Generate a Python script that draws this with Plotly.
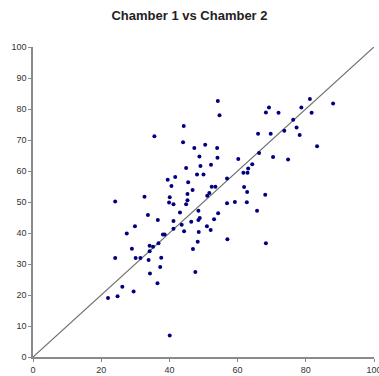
import plotly.graph_objects as go

chamber1 = [54.2, 54.7, 68.3, 69.2, 72.0, 76.3, 78.7, 81.2, 81.7, 88.0,
            44.2, 35.6, 44.0, 66.0, 69.7, 73.7, 77.3, 78.2, 83.3, 47.3,
            50.5, 54.0, 54.1, 48.8, 66.3, 60.2, 70.4, 74.8, 44.9, 49.1,
            52.2, 64.3, 63.1, 61.7, 62.9, 48.1, 50.0, 39.5, 41.7, 56.9,
            45.5, 40.6, 46.8, 52.4, 53.5, 61.9, 62.8, 51.7, 51.1, 45.3,
            40.1, 32.7, 24.1, 45.3, 39.9, 41.2, 44.9, 56.9, 59.2, 62.7,
            68.1, 33.7, 43.1, 48.5, 54.3, 65.7, 36.6, 41.2, 48.5, 48.9,
            53.1, 43.6, 46.4, 29.9, 51.0, 52.1, 41.2, 44.3, 48.6, 27.5,
            38.1, 38.6, 57.0, 68.3, 24.1, 29.0, 30.1, 31.5, 34.2, 35.2,
            34.2, 33.9, 36.8, 37.6, 37.3, 34.3, 36.5, 26.2, 29.5, 22.0,
            24.8, 46.9, 48.3, 47.6, 40.1]
chamber2 = [82.6, 78.0, 78.9, 80.5, 78.8, 76.5, 80.5, 83.2, 78.8, 81.8,
            74.5, 71.2, 69.3, 72.0, 72.0, 73.0, 74.0, 71.6, 68.0, 67.4,
            68.5, 67.4, 64.3, 64.7, 65.8, 63.9, 64.5, 63.7, 61.0, 61.6,
            62.0, 62.2, 60.8, 59.4, 59.4, 58.9, 58.9, 57.2, 58.1, 57.6,
            56.4, 55.2, 53.9, 54.9, 54.9, 54.8, 53.2, 52.9, 52.0, 52.6,
            51.5, 51.7, 50.2, 50.6, 49.8, 49.3, 49.3, 49.6, 50.0, 49.9,
            52.3, 45.8, 46.6, 47.2, 46.4, 47.2, 44.2, 43.9, 44.2, 44.8,
            44.4, 42.7, 43.6, 42.2, 42.2, 41.0, 41.4, 40.6, 40.3, 39.8,
            39.5, 39.5, 38.0, 36.7, 31.9, 34.9, 31.9, 31.9, 35.9, 35.6,
            34.1, 31.3, 36.7, 32.0, 29.0, 26.9, 23.8, 22.7, 21.1, 19.0,
            19.6, 34.8, 37.2, 27.4, 6.9]
line_x = [0, 100]
line_y = [0, 100]
ticks = [0, 20, 40, 60, 80, 100]
yticks = [0, 10, 20, 30, 40, 50, 60, 70, 80, 90, 100]

fig = go.Figure()
fig.add_trace(go.Scatter(x=line_x, y=line_y, mode="lines",
                         line=dict(color="#6e6e6e", width=1.2), hoverinfo="skip",
                         cliponaxis=False))
fig.add_trace(go.Scatter(x=chamber1, y=chamber2, mode="markers",
                         marker=dict(color="#000080", size=4, symbol="circle")))

axis_common = dict(range=[0, 100], showgrid=False, zeroline=False, automargin=False,
                   showline=True, linecolor="#8a8a8a", linewidth=1.5,
                   ticks="outside", ticklen=3, tickcolor="#8a8a8a",
                   ticklabeloverflow="allow",
                   tickfont=dict(family="Liberation Sans, Arial", size=9, color="#333333"))
fig.update_xaxes(tickvals=ticks, **axis_common)
fig.update_yaxes(tickvals=yticks, **axis_common)

fig.update_layout(
    width=379, height=376,
    margin=dict(l=33, r=5, t=47, b=19, autoexpand=False),
    paper_bgcolor="white", plot_bgcolor="white",
    showlegend=False,
    title=dict(text="<b>Chamber 1 vs Chamber 2</b>", x=0.5, xanchor="center",
               y=1 - 15 / 376, yanchor="middle", automargin=False,
               font=dict(family="Liberation Sans, Arial", size=13, color="#222222")),
)
fig.write_html("out.html", config={"displayModeBar": False},
               post_script="document.body.style.margin='0';document.body.style.overflow='hidden';")
